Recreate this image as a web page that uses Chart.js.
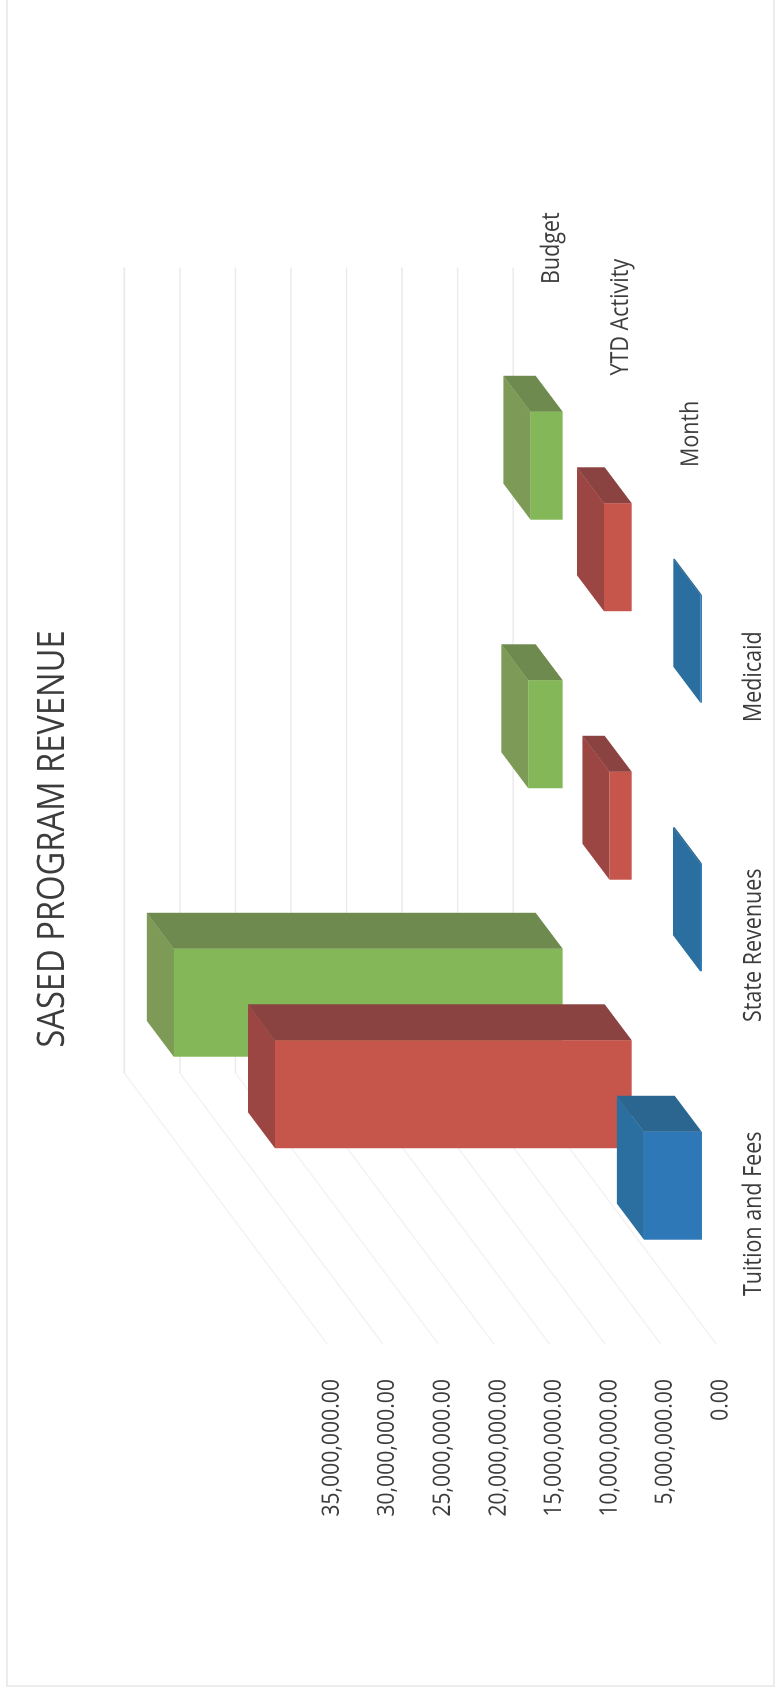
<!DOCTYPE html>
<html>
<head>
<meta charset="utf-8">
<title>SASED Program Revenue</title>
<style>
  html, body { margin: 0; padding: 0; width: 780px; height: 1691px; overflow: hidden; background: #fff; }
  #frame { position: absolute; left: 6px; top: -4px; width: 765px; height: 1687px; border: 2px solid #ececec; }
  #chart { position: absolute; left: 0; top: 0; transform-origin: 0 0; }
</style>
<script src="https://cdn.jsdelivr.net/npm/chart.js@4"></script>
</head>
<body>
<div id="frame"></div>
<canvas id="chart" width="1704" height="678"></canvas>
<script>
const categories = ['Tuition and Fees', 'State Revenues', 'Medicaid'];
const monthValues = [5200000, 150000, 120000];
const ytdValues = [32100000, 2000000, 2500000];
const budgetValues = [35000000, 3100000, 2900000];
const seriesNames = ['Month', 'YTD Activity', 'Budget'];
const valueTicks = [0, 5000000, 10000000, 15000000, 20000000, 25000000, 30000000, 35000000];

// Sheet is laid out landscape, then turned a quarter and stretched slightly across the fold.
const CANVAS_W = 1704, CANVAS_H = 678, PAGE_H = 1691, PAGE_W = 780;
const STRETCH = PAGE_W / CANVAS_H;
const yy = v => v / STRETCH;
const FONT = '"Open Sans", "Noto Sans", sans-serif';
const TEXT = '#3c3c3c';

const AREA = { left: 347, right: 1152.5, top: yy(331.7), bottom: yy(720.7) };
const FLOOR = { dx: 271, dy: yy(207.5), frontLift: yy(4.5) };
const BOX = { dx: 36, dy: yy(27) };
const ROWS = [
  { dx: 24, dy: yy(19) },
  { dx: 115.5, dy: yy(89) },
  { dx: 207, dy: yy(158) }
];
const PALETTE = [
  { front: '#2e78b8', top: '#2a6f9f', side: '#2a6690' },
  { front: '#c6564b', top: '#9c4644', side: '#8a4340' },
  { front: '#84b758', top: '#7d9b57', side: '#6e8a4f' }
];

const canvas = document.getElementById('chart');
canvas.style.transform = `translateY(${PAGE_H}px) rotate(-90deg) scaleY(${STRETCH})`;

function polygon(ctx, pts, fill) {
  ctx.beginPath();
  pts.forEach((p, i) => i ? ctx.lineTo(p[0], p[1]) : ctx.moveTo(p[0], p[1]));
  ctx.closePath();
  ctx.fillStyle = fill;
  ctx.fill();
}

// Back wall and floor rules, one per value tick.
const wallGrid = {
  id: 'wallGrid',
  beforeDatasetsDraw(chart) {
    const { ctx, scales: { y } } = chart;
    ctx.save();
    ctx.lineWidth = 1.4;
    y.ticks.forEach(t => {
      const py = y.getPixelForValue(t.value);
      const backX = AREA.left + FLOOR.dx, backY = py - FLOOR.dy;
      ctx.strokeStyle = '#f3f3f3';
      ctx.beginPath();
      ctx.moveTo(AREA.left, py - FLOOR.frontLift);
      ctx.lineTo(backX, backY);
      ctx.stroke();
      ctx.strokeStyle = '#ebebeb';
      ctx.beginPath();
      ctx.moveTo(backX, backY);
      ctx.lineTo(AREA.right + FLOOR.dx, backY);
      ctx.stroke();
    });
    ctx.restore();
  }
};

// Pushes each series back to its own row and gives its bars a top and a side.
const depthRows = {
  id: 'depthRows',
  beforeDatasetDraw(chart, args) {
    const { ctx } = chart;
    const row = ROWS[args.index];
    const shade = PALETTE[args.index];
    ctx.save();
    ctx.translate(row.dx, -row.dy);
    args.meta.data.forEach(bar => {
      const { x, y, base, width } = bar.getProps(['x', 'y', 'base', 'width'], true);
      const l = x - width / 2, r = x + width / 2;
      polygon(ctx, [[r, y], [r + BOX.dx, y - BOX.dy], [r + BOX.dx, base - BOX.dy], [r, base]], shade.side);
      polygon(ctx, [[l, y], [l + BOX.dx, y - BOX.dy], [r + BOX.dx, y - BOX.dy], [r, y]], shade.top);
    });
  },
  afterDatasetDraw(chart) {
    chart.ctx.restore();
  }
};

// Series names run along the depth axis, past the last category.
const rowLabels = {
  id: 'rowLabels',
  afterDraw(chart) {
    const { ctx, scales: { y } } = chart;
    const zero = y.getPixelForValue(0);
    ctx.save();
    ctx.font = '21.5px ' + FONT;
    ctx.fillStyle = TEXT;
    ctx.textAlign = 'left';
    ctx.textBaseline = 'middle';
    chart.data.datasets.forEach((ds, i) => {
      ctx.fillText(ds.label, AREA.right + ROWS[i].dx + 47.5, zero - ROWS[i].dy - yy(10.7));
    });
    ctx.restore();
  }
};

function dataset(i, values) {
  return {
    label: seriesNames[i],
    data: values,
    backgroundColor: PALETTE[i].front,
    borderWidth: 0,
    barPercentage: 0.402,
    categoryPercentage: 1,
    grouped: false
  };
}

new Chart(canvas, {
  type: 'bar',
  data: {
    labels: categories,
    datasets: [dataset(0, monthValues), dataset(1, ytdValues), dataset(2, budgetValues)]
  },
  plugins: [wallGrid, depthRows, rowLabels],
  options: {
    responsive: false,
    animation: false,
    devicePixelRatio: 2,
    layout: { padding: 0 },
    plugins: {
      legend: { display: false },
      tooltip: { enabled: false },
      title: {
        display: true,
        text: 'SASED PROGRAM REVENUE',
        color: TEXT,
        font: { family: FONT, size: 32.7, weight: 'normal', lineHeight: 1.2 },
        padding: { top: yy(53) - 19.6, bottom: AREA.top - (yy(53) + 19.6) }
      }
    },
    scales: {
      x: {
        grid: { display: false },
        border: { display: false },
        ticks: { color: TEXT, font: { family: FONT, size: 21.5 }, padding: 8, maxRotation: 0, labelOffset: -4 },
        afterFit(scale) { scale.height = CANVAS_H - AREA.bottom; }
      },
      y: {
        min: 0,
        max: 35000000,
        grid: { display: false },
        border: { display: false },
        afterBuildTicks(scale) { scale.ticks = valueTicks.map(value => ({ value })); },
        ticks: {
          color: TEXT,
          font: { family: FONT, size: 21.2 },
          padding: 27,
          callback: v => v.toLocaleString('en-US', { minimumFractionDigits: 2, maximumFractionDigits: 2 })
        },
        afterFit(scale) { scale.width = AREA.left; }
      },
      // Empty axis that reserves the room behind the last category for the depth rows.
      depthRoom: {
        type: 'linear',
        position: 'right',
        grid: { display: false },
        border: { display: false },
        ticks: { display: false },
        afterFit(scale) { scale.width = CANVAS_W - AREA.right; }
      }
    }
  }
});
</script>
</body>
</html>
